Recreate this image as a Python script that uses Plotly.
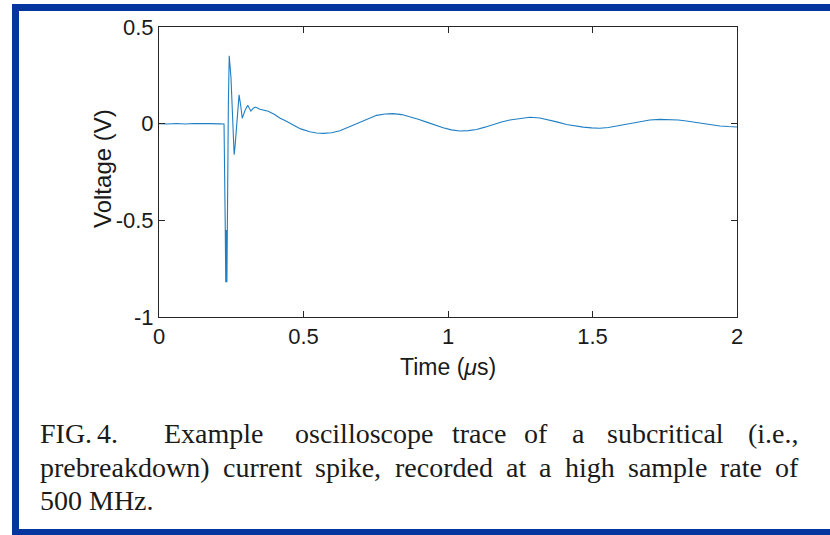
import plotly.graph_objects as go

# ---- data ----
time_us = [0.000, 0.030, 0.060, 0.090, 0.120, 0.150, 0.180, 0.210, 0.225, 0.229,
           0.231, 0.233, 0.235, 0.240, 0.243, 0.249, 0.260, 0.263, 0.266, 0.277,
           0.283, 0.288, 0.298, 0.307, 0.313, 0.318, 0.326, 0.334, 0.349, 0.365,
           0.378, 0.400, 0.419, 0.436, 0.450, 0.465, 0.490, 0.522, 0.545, 0.568,
           0.597, 0.626, 0.660, 0.695, 0.725, 0.753, 0.782, 0.810, 0.840, 0.868,
           0.897, 0.926, 0.955, 0.983, 1.012, 1.041, 1.070, 1.099, 1.128, 1.156,
           1.185, 1.214, 1.250, 1.283, 1.318, 1.352, 1.380, 1.410, 1.440, 1.468,
           1.497, 1.525, 1.555, 1.583, 1.612, 1.641, 1.670, 1.698, 1.733, 1.768,
           1.797, 1.825, 1.855, 1.883, 1.912, 1.941, 1.970, 2.000]
voltage_v = [0.000, -0.002, 0.001, -0.002, 0.001, -0.001, 0.000, -0.001, -0.002, -0.50,
             -0.82, -0.55, -0.82, 0.10, 0.351, 0.24, -0.16, -0.12, -0.07, 0.149,
             0.090, 0.028, 0.070, 0.095, 0.078, 0.065, 0.080, 0.086, 0.075, 0.071,
             0.064, 0.047, 0.028, 0.016, 0.005, -0.010, -0.027, -0.042, -0.048, -0.050,
             -0.047, -0.037, -0.016, 0.008, 0.028, 0.043, 0.050, 0.052, 0.047, 0.036,
             0.023, 0.008, -0.008, -0.021, -0.032, -0.038, -0.036, -0.030, -0.018, -0.004,
             0.009, 0.019, 0.028, 0.033, 0.029, 0.019, 0.008, -0.004, -0.012, -0.018,
             -0.022, -0.024, -0.020, -0.012, -0.003, 0.005, 0.013, 0.019, 0.022, 0.022,
             0.019, 0.014, 0.007, 0.000, -0.006, -0.012, -0.015, -0.017]

x_tickvals = [0, 0.5, 1, 1.5, 2]
x_ticktext = ["0", "0.5", "1", "1.5", "2"]
y_tickvals = [-1, -0.5, 0, 0.5]
y_ticktext = ["-1", "-0.5", "0", "0.5"]

x_title = "Time (<i>\u03bc</i>s)"
y_title = "Voltage (V)"

caption_line1 = ["FIG.", "4.", "Example", "oscilloscope", "trace", "of", "a", "subcritical", "(i.e.,"]
caption_line2 = ["prebreakdown)", "current", "spike,", "recorded", "at", "a", "high", "sample", "rate", "of"]
caption_line3 = ["500 MHz."]

# ---- layout geometry (pixels) ----
W, H = 830, 535
L, R, T, B = 159, 737, 27, 317
pw, ph = R - L, B - T


def px(x):
    return (x - L) / pw


def py(y):
    return (B - y) / ph


line1_x = [38, 95, 162, 293, 450, 522, 570, 605, 746]
line2_x = [38, 221, 313, 393, 504, 537, 563, 626, 718, 773]
line3_x = [38]
line_y = [433, 467, 500]

axis_col = "#262626"
txt_col = "#1a1a1a"
font_sans = "Liberation Sans, Arial, sans-serif"
font_serif = "Liberation Serif, Times New Roman, serif"

fig = go.Figure()
fig.add_trace(go.Scatter(x=time_us, y=voltage_v, mode="lines",
                         line=dict(color="#1f7fc4", width=1.1),
                         showlegend=False, hoverinfo="skip"))

axis_common = dict(showline=True, linecolor=axis_col, linewidth=1, mirror="allticks",
                   ticks="inside", ticklen=6, tickwidth=1, tickcolor=axis_col,
                   showgrid=False, zeroline=False,
                   tickfont=dict(family=font_sans, size=22, color=txt_col))

fig.update_xaxes(range=[0, 2], tickvals=x_tickvals, ticktext=x_ticktext, **axis_common)
fig.update_yaxes(range=[-1, 0.5], tickvals=y_tickvals, ticktext=y_ticktext, **axis_common)

annotations = []
annotations.append(dict(text=x_title, x=px(448), y=py(367), xref="paper", yref="paper",
                        showarrow=False, xanchor="center", yanchor="middle",
                        font=dict(family=font_sans, size=23, color=txt_col)))
annotations.append(dict(text=y_title, x=px(102), y=py(169), xref="paper", yref="paper",
                        showarrow=False, xanchor="center", yanchor="middle", textangle=-90,
                        font=dict(family=font_sans, size=24, color=txt_col)))

for words, xs, yy in ((caption_line1, line1_x, line_y[0]),
                      (caption_line2, line2_x, line_y[1]),
                      (caption_line3, line3_x, line_y[2])):
    for w, xx in zip(words, xs):
        annotations.append(dict(text=w, x=px(xx), y=py(yy), xref="paper", yref="paper",
                                showarrow=False, xanchor="left", yanchor="middle",
                                font=dict(family=font_serif, size=28, color=txt_col)))

blue = "#0536a0"
shapes = [
    dict(type="rect", xref="paper", yref="paper", x0=px(12), x1=px(830), y0=py(4), y1=py(11),
         fillcolor=blue, line=dict(width=0), layer="above"),
    dict(type="rect", xref="paper", yref="paper", x0=px(12), x1=px(19), y0=py(4), y1=py(535),
         fillcolor=blue, line=dict(width=0), layer="above"),
    dict(type="rect", xref="paper", yref="paper", x0=px(12), x1=px(830), y0=py(529), y1=py(535),
         fillcolor=blue, line=dict(width=0), layer="above"),
]

fig.update_layout(width=W, height=H, margin=dict(l=L, r=W - R, t=T, b=H - B),
                  paper_bgcolor="white", plot_bgcolor="white",
                  annotations=annotations, shapes=shapes)

fig.write_html("out.html")
